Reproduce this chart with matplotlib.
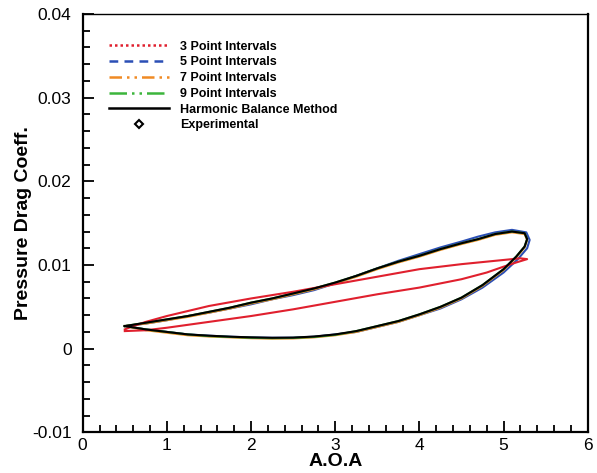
import matplotlib
matplotlib.use("Agg")
import matplotlib.pyplot as plt
from matplotlib.lines import Line2D
from matplotlib.ticker import MultipleLocator

plt.rcParams["font.family"] = ["Liberation Sans", "DejaVu Sans"]

# Harmonic balance loop (lower branch out, upper branch back)
hb_aoa = [0.50, 0.75, 1.00, 1.25, 1.50, 1.75, 2.00, 2.25, 2.50, 2.75, 3.00, 3.25, 3.50,
          3.75, 4.00, 4.25, 4.50, 4.75, 5.00, 5.15, 5.25, 5.28, 5.25, 5.10, 4.90, 4.70,
          4.50, 4.25, 4.00, 3.75, 3.50, 3.25, 3.00, 2.75, 2.50, 2.25, 2.00, 1.75, 1.50,
          1.25, 1.00, 0.75, 0.50]
hb_cd = [0.0027, 0.0023, 0.0020, 0.0017, 0.00155, 0.00143, 0.00135, 0.0013, 0.00132,
         0.00145, 0.0017, 0.0021, 0.0027, 0.0033, 0.0041, 0.0050, 0.0061, 0.0076, 0.0095,
         0.0110, 0.0122, 0.0131, 0.0138, 0.0140, 0.0137, 0.0131, 0.0126, 0.0119, 0.0111,
         0.0104, 0.0096, 0.0087, 0.0079, 0.0072, 0.0066, 0.0060, 0.0055, 0.0049, 0.0044,
         0.0039, 0.0035, 0.0031, 0.0027]

# 3 point intervals
p3_aoa = [0.50, 0.75, 1.00, 1.50, 2.00, 2.50, 3.00, 3.50, 4.00, 4.50, 4.80, 5.00, 5.15,
          5.28, 5.20, 5.00, 4.50, 4.00, 3.50, 3.00, 2.50, 2.00, 1.50, 1.25, 1.00, 0.75,
          0.60, 0.50]
p3_cd = [0.0021, 0.0022, 0.0025, 0.0032, 0.0039, 0.0047, 0.0056, 0.0065, 0.0073, 0.0083,
         0.0091, 0.0098, 0.0103, 0.0107, 0.0108, 0.0106, 0.0101, 0.0095, 0.0086, 0.0077,
         0.0068, 0.0060, 0.0051, 0.0045, 0.0039, 0.0032, 0.0027, 0.0023]

# 5 point intervals
p5_aoa = [0.50, 0.75, 1.00, 1.25, 1.50, 1.75, 2.00, 2.25, 2.50, 2.75, 3.00, 3.25, 3.50,
          3.75, 4.00, 4.25, 4.50, 4.75, 5.00, 5.17, 5.28, 5.31, 5.27, 5.10, 4.90, 4.70,
          4.50, 4.25, 4.00, 3.75, 3.50, 3.25, 3.00, 2.75, 2.50, 2.25, 2.00, 1.75, 1.50,
          1.25, 1.00, 0.75, 0.50]
p5_cd = [0.0027, 0.0023, 0.0020, 0.0017, 0.00155, 0.00143, 0.00134, 0.0013, 0.00131,
         0.00143, 0.0017, 0.0020, 0.0026, 0.0032, 0.0040, 0.0048, 0.0059, 0.0073, 0.0091,
         0.0107, 0.0120, 0.0130, 0.0139, 0.0142, 0.0139, 0.0134, 0.0128, 0.0121, 0.0113,
         0.0105, 0.0096, 0.0087, 0.0078, 0.0070, 0.0064, 0.0059, 0.0053, 0.0048, 0.0043,
         0.0039, 0.0034, 0.0030, 0.0027]

# 7 point intervals
p7_aoa = [0.50, 0.75, 1.00, 1.25, 1.50, 1.75, 2.00, 2.25, 2.50, 2.75, 3.00, 3.25, 3.50,
          3.75, 4.00, 4.25, 4.50, 4.75, 5.00, 5.15, 5.25, 5.28, 5.25, 5.10, 4.90, 4.70,
          4.50, 4.25, 4.00, 3.75, 3.50, 3.25, 3.00, 2.75, 2.50, 2.25, 2.00, 1.75, 1.50,
          1.25, 1.00, 0.75, 0.50]
p7_cd = [0.0027, 0.0022, 0.0019, 0.0016, 0.00145, 0.00135, 0.00125, 0.0012, 0.00122,
         0.00135, 0.0016, 0.0020, 0.0026, 0.0032, 0.0040, 0.0049, 0.0060, 0.0075, 0.0094,
         0.0109, 0.0121, 0.0130, 0.0137, 0.0139, 0.0136, 0.0130, 0.0125, 0.0118, 0.0110,
         0.0103, 0.0095, 0.0086, 0.0078, 0.0071, 0.0065, 0.0059, 0.0054, 0.0048, 0.0043,
         0.0038, 0.0034, 0.0030, 0.0027]

# 9 point intervals
p9_aoa = [0.50, 0.75, 1.00, 1.25, 1.50, 1.75, 2.00, 2.25, 2.50, 2.75, 3.00, 3.25, 3.50,
          3.75, 4.00, 4.25, 4.50, 4.75, 5.00, 5.15, 5.25, 5.28, 5.25, 5.10, 4.90, 4.70,
          4.50, 4.25, 4.00, 3.75, 3.50, 3.25, 3.00, 2.75, 2.50, 2.25, 2.00, 1.75, 1.50,
          1.25, 1.00, 0.75, 0.50]
p9_cd = [0.0027, 0.0023, 0.0020, 0.0017, 0.0015, 0.0014, 0.0013, 0.00125, 0.00128,
         0.0014, 0.00165, 0.0021, 0.0027, 0.0033, 0.0041, 0.0050, 0.0061, 0.0076, 0.0095,
         0.0110, 0.0122, 0.0131, 0.0138, 0.0140, 0.0137, 0.0131, 0.0126, 0.0119, 0.0111,
         0.0104, 0.0096, 0.0087, 0.0079, 0.0072, 0.0066, 0.0060, 0.0055, 0.0049, 0.0044,
         0.0039, 0.0035, 0.0031, 0.0027]

legend_labels = ["3 Point Intervals", "5 Point Intervals", "7 Point Intervals",
                 "9 Point Intervals", "Harmonic Balance Method", "Experimental"]

fig = plt.figure(figsize=(5.97, 4.73), dpi=100)
ax = fig.add_axes([0.1385, 0.086, 0.846, 0.8844])

lw = 1.5
ax.plot(p5_aoa, p5_cd, color="#2b4fb5", lw=lw)
ax.plot(p7_aoa, p7_cd, color="#f08a24", lw=lw)
ax.plot(p9_aoa, p9_cd, color="#3cb53c", lw=lw)
ax.plot(p3_aoa, p3_cd, color="#e0202e", lw=lw)
ax.plot(hb_aoa, hb_cd, color="black", lw=lw)

handles = [
    Line2D([], [], color="#e0202e", lw=1.8, ls=(0, (1, 1.2))),
    Line2D([], [], color="#2b4fb5", lw=1.8, ls=(0, (3.5, 2.5))),
    Line2D([], [], color="#f08a24", lw=1.8, ls=(0, (5, 2, 1, 2, 1, 2))),
    Line2D([], [], color="#3cb53c", lw=1.8, ls=(0, (7, 2, 1, 2, 1, 2))),
    Line2D([], [], color="black", lw=1.8),
    Line2D([], [], color="black", ls="none", marker="D", markersize=4.5,
           markerfacecolor="white", markeredgewidth=1.5),
]
leg = ax.legend(handles, legend_labels, loc="upper left", frameon=False,
                bbox_to_anchor=(0.03, 0.963), handlelength=4.8, handletextpad=0.9,
                labelspacing=0.3, prop={"size": 9, "weight": "bold"})

ax.set_xlim(0, 6)
ax.set_ylim(-0.01, 0.04)
ax.xaxis.set_major_locator(MultipleLocator(1))
ax.xaxis.set_minor_locator(MultipleLocator(0.2))
ax.yaxis.set_major_locator(MultipleLocator(0.01))
ax.yaxis.set_minor_locator(MultipleLocator(0.002))
ax.set_xticklabels([f"{v:g}" for v in ax.get_xticks()])
ax.set_yticks([-0.01, 0, 0.01, 0.02, 0.03, 0.04])
ax.set_yticklabels(["-0.01", "0", "0.01", "0.02", "0.03", "0.04"])
ax.tick_params(which="both", direction="in", top=False, right=False, width=1.3,
               labelsize=12.5)
ax.tick_params(which="major", length=8)
ax.tick_params(which="minor", length=5)
ax.tick_params(axis="y", pad=8)
ax.tick_params(axis="x", pad=4)
for sp in ax.spines.values():
    sp.set_linewidth(1.6)
ax.spines["top"].set_linewidth(1.0)

ax.set_xlabel("A.O.A", fontsize=14, fontweight="bold", labelpad=0)
ax.set_ylabel("Pressure Drag Coeff.", fontsize=14, fontweight="bold", labelpad=0)

fig.savefig("out.png", dpi=100)
